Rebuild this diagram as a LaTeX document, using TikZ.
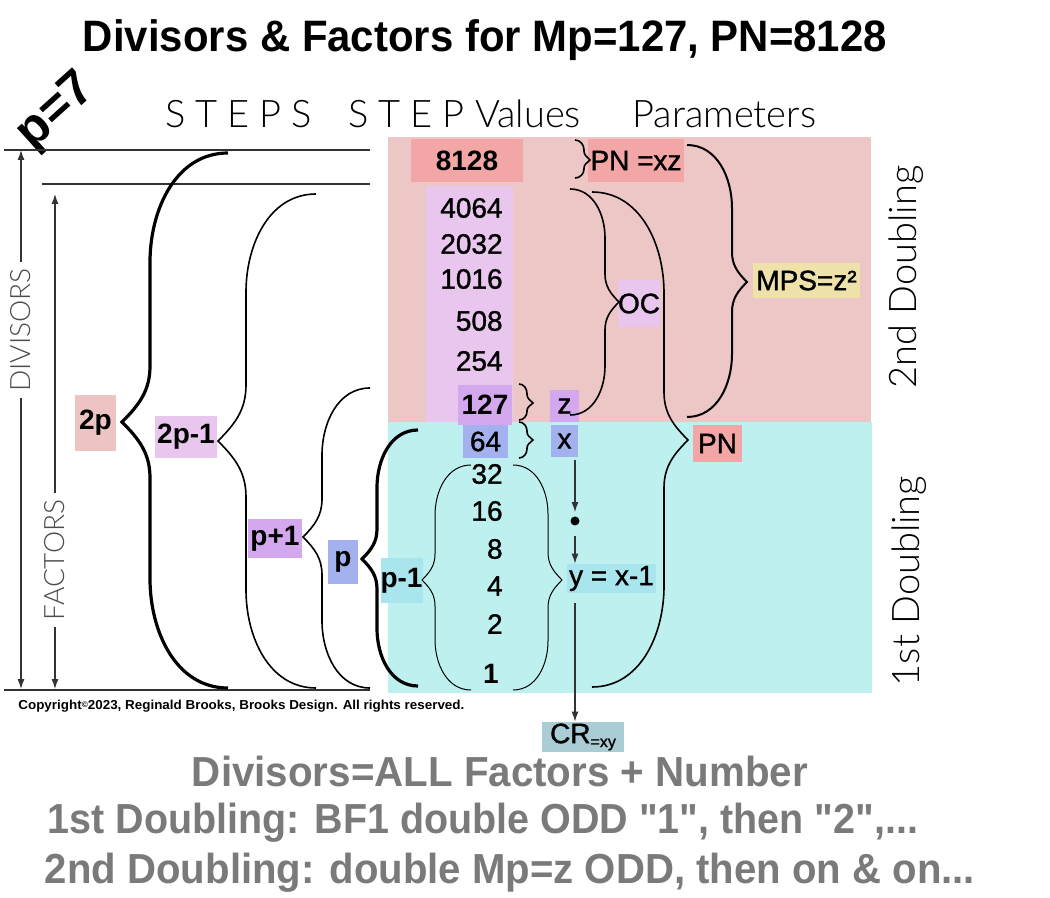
\documentclass[tikz,border=0pt]{standalone}
\usepackage{fontspec}
\setmainfont{Liberation Sans}
\newfontfamily\medfont{Liberation Sans}[FakeBold=1.2]
\newfontfamily\notefont{Liberation Sans}
\newfontfamily\thinfont{Lato Light}
\usetikzlibrary{arrows.meta,positioning}

\definecolor{pinkbg}{HTML}{EDC6C6}
\definecolor{cyanbg}{HTML}{BDF0EE}
\definecolor{lav}{HTML}{E9C6EE}
\definecolor{purp}{HTML}{D3A8EE}
\definecolor{bluebox}{HTML}{A3B1EE}
\definecolor{salmon}{HTML}{F2A6A6}
\definecolor{rosebox}{HTML}{ECC4C4}
\definecolor{sand}{HTML}{EEE2AA}
\definecolor{aqua}{HTML}{A9E5EC}
\definecolor{steel}{HTML}{A9CCD5}
\definecolor{graytxt}{HTML}{7A7A7A}

% curly braces in pixel coordinates: end x, top y, bottom y, spine x, tip x, tip y
\newcommand{\curlyleft}[7][]{%
  \pgfmathsetmacro{\sweepA}{min(1.4*(#2-#5),0.5*(#7-#3))}
  \pgfmathsetmacro{\tipA}{min(2*(#5-#6),0.45*(#7-#3))}
  \pgfmathsetmacro{\sweepB}{min(1.4*(#2-#5),0.5*(#4-#7))}
  \pgfmathsetmacro{\tipB}{min(2*(#5-#6),0.45*(#4-#7))}
  \draw[#1] (#2,-#3) to[out=180,in=90] (#5,-#3-\sweepA) -- (#5,-#7+\tipA)
    to[out=-90,in=45] (#6,-#7) to[out=-45,in=90] (#5,-#7-\tipB)
    -- (#5,-#4+\sweepB) to[out=-90,in=180] (#2,-#4);
}
\newcommand{\curlyright}[7][]{%
  \pgfmathsetmacro{\sweepA}{min(1.4*(#5-#2),0.5*(#7-#3))}
  \pgfmathsetmacro{\tipA}{min(2*(#6-#5),0.45*(#7-#3))}
  \pgfmathsetmacro{\sweepB}{min(1.4*(#5-#2),0.5*(#4-#7))}
  \pgfmathsetmacro{\tipB}{min(2*(#6-#5),0.45*(#4-#7))}
  \draw[#1] (#2,-#3) to[out=0,in=90] (#5,-#3-\sweepA) -- (#5,-#7+\tipA)
    to[out=-90,in=135] (#6,-#7) to[out=-135,in=90] (#5,-#7-\tipB)
    -- (#5,-#4+\sweepB) to[out=-90,in=0] (#2,-#4);
}

\tikzset{
  num/.style={font=\medfont\fontsize{14}{16}\selectfont, inner sep=0pt, anchor=east},
  lbl/.style={fill=#1, inner sep=0pt, font=\medfont\fontsize{14}{16}\selectfont},
  blbl/.style={lbl=#1, font=\bfseries\fontsize{14}{16}\selectfont},
  headtxt/.style={font=\thinfont\fontsize{19}{21}\selectfont, inner sep=0pt, anchor=base west},
  sidetxt/.style={font=\thinfont\fontsize{14}{16}\selectfont, text=black!70, rotate=90, inner sep=3pt},
  doubling/.style={font=\thinfont\fontsize{19}{21}\selectfont, rotate=90, inner sep=0pt},
  bottxt/.style={font=\notefont\bfseries\fontsize{21}{23}\selectfont, text=graytxt, inner sep=0pt, anchor=base},
  rule/.style={line width=0.75pt, black!80},
  arr/.style={line width=0.6pt, black!80, -{Latex[length=5pt,width=3.5pt]}},
  thickbrace/.style={line width=1.6pt},
  midbrace/.style={line width=0.8pt},
  finebrace/.style={line width=0.5pt},
}

\begin{document}
\begin{tikzpicture}[x=0.5pt,y=0.5pt]
\fill[white] (0,0) rectangle (1050,-898);
\useasboundingbox (0,0) rectangle (1050,-898);

% doubling regions
\fill[pinkbg] (388,-137) rectangle (871,-422);
\fill[cyanbg] (388,-422) rectangle (872,-693);
\fill[lav] (426,-186) rectangle (513,-422);

% headings
\node[font=\bfseries\fontsize{22}{24}\selectfont, anchor=base, inner sep=0pt] (title) at (485,-52)
  {\resizebox{402pt}{\height}{Divisors \& Factors for Mp=127, PN=8128}};
\node[headtxt] (hsteps) at (165,-128) {S\kern5pt T\kern5pt E\kern5pt P\kern5pt S};
\node[headtxt] (hvalues) at (348,-128) {S\kern5pt T\kern5pt E\kern5pt P Values};
\node[headtxt] (hparams) at (632,-128) {Parameters};
\node[font=\bfseries\fontsize{25}{25}\selectfont, rotate=42, inner sep=0pt] (pseven) at (57,-112) {p=7};

% rulers
\coordinate (topl) at (4,-150);
\coordinate (topr) at (370,-150);
\coordinate (secl) at (42,-184);
\coordinate (secr) at (370,-184);
\coordinate (botl) at (4,-690);
\coordinate (botr) at (370,-690);
\draw[rule] (topl) -- (topr);
\draw[rule] (secl) -- (secr);
\draw[rule] (botl) -- (botr);
\coordinate (divtop) at (21,-150);
\coordinate (divbot) at (21,-689);
\coordinate (factop) at (55,-194);
\coordinate (facbot) at (55,-689);
\node[sidetxt] (divtxt) at (21,-330) {DIVISORS};
\node[sidetxt] (factxt) at (55,-560) {FACTORS};
\draw[arr] (divtxt.east) -- (divtop);
\draw[arr] (divtxt.west) -- (divbot);
\draw[arr] (factxt.east) -- (factop);
\draw[arr] (factxt.west) -- (facbot);

% step values
\node[lbl=salmon, minimum width=56pt, minimum height=21.5pt, font=\bfseries\fontsize{14}{16}\selectfont] (v8128) at (467,-160.5) {8128};
\foreach \val/\ypos in {4064/208,2032/244,1016/279,508/321,254/361,32/474,16/511,8/549,4/586,2/624}
  \node[num] (v\val) at (503,-\ypos) {\val};
\node[lbl=purp, minimum width=27pt, minimum height=20pt, font=\bfseries\fontsize{14}{16}\selectfont] (v127) at (485,-405) {127};
\node[lbl=bluebox, minimum width=22.5pt, minimum height=16.5pt] (v64) at (485.5,-441.5) {64};
\node[num, font=\bfseries\fontsize{14}{16}\selectfont] (v1) at (499,-674) {1};

% step labels
\node[blbl=rosebox, minimum width=20.5pt, minimum height=28pt] (s2p) at (95.5,-423) {2p};
\node[blbl=lav, minimum width=31pt, minimum height=21pt] (s2pm) at (186,-437) {2p-1};
\node[blbl=purp, minimum width=27pt, minimum height=19.5pt] (spp) at (275,-538.5) {p+1};
\node[blbl=bluebox, minimum width=15pt, minimum height=22pt] (sp) at (343,-562) {p};
\node[blbl=aqua, minimum width=19.5pt, minimum height=22.5pt] (spm) at (401.5,-580.5) {p-1};

% parameters
\node[lbl=salmon, minimum width=48pt, minimum height=21.5pt] (pnxz) at (636,-160.5) {PN =xz};
\node[lbl=sand, minimum width=53.5pt, minimum height=17.5pt] (mps) at (806.5,-280.5) {MPS=z²};
\node[lbl=lav, minimum width=20pt, minimum height=23.5pt] (oc) at (639,-303.5) {OC};
\node[lbl=purp, minimum width=14.5pt, minimum height=16pt] (zbox) at (564.5,-406) {z};
\node[lbl=bluebox, minimum width=13.5pt, minimum height=16pt] (xbox) at (564.5,-441) {x};
\node[lbl=salmon, minimum width=24.5pt, minimum height=18.5pt] (pnbox) at (717.5,-443.5) {PN};
\node[circle, fill=black, inner sep=0pt, minimum size=4.5pt] (dot) at (575,-521) {};
\node[lbl=aqua, minimum width=44.5pt, minimum height=14.5pt] (ybox) at (611.5,-578.5) {y = x-1};
\node[lbl=steel, minimum width=41pt, minimum height=15pt] (crbox) at (583,-737) {CR{\fontsize{8}{8}\selectfont\raisebox{-2pt}{=xy}}};
\draw[arr, shorten <=1.5pt, shorten >=2pt] (dot |- xbox.south) -- (dot.north);
\draw[arr, shorten <=5pt] (dot.south) -- (dot |- ybox.north);
\draw[arr, shorten <=5pt] (dot |- ybox.south) -- (dot |- crbox.north);

% braces for the steps
\curlyleft[thickbrace]{228}{153}{688}{150}{122}{422}
\curlyleft[midbrace]{316}{194}{688}{246}{218}{441}
\curlyleft[midbrace]{370}{388}{688}{322}{303}{537}
\curlyleft[thickbrace]{418}{430}{686}{377}{362}{559}
\curlyleft[finebrace]{471}{465}{690}{435}{422}{580}
\curlyright[finebrace]{513}{465}{690}{548}{562}{580}
% braces for the parameters
\curlyright[midbrace]{575}{140}{178}{584}{590}{160}
\curlyright[midbrace]{519}{384}{420}{527}{533}{403}
\curlyright[midbrace]{519}{422}{458}{527}{533}{440}
\curlyright[midbrace]{570}{189}{415}{605}{619}{302}
\curlyright[midbrace]{592}{192}{687}{664}{688}{440}
\curlyright[line width=1pt]{687}{145}{417}{732}{747}{282}

\node[doubling] (second) at (906,-277) {2nd Doubling};
\node[doubling] (first) at (909,-581) {1st Doubling};

% notes
\node[font=\bfseries\fontsize{6.5}{7}\selectfont, anchor=base west, inner sep=0pt] (copy) at (18,-709)
  {\resizebox{223pt}{\height}{Copyright{\fontsize{4}{4}\selectfont\raisebox{1pt}{©}}2023, Reginald Brooks, Brooks Design. All rights reserved.}};
\node[bottxt] (sum1) at (500,-786) {\resizebox{308pt}{\height}{Divisors=ALL Factors + Number}};
\node[bottxt] (sum2) at (483,-833) {\resizebox{435pt}{\height}{1st Doubling: BF1 double ODD "1", then "2",...}};
\node[bottxt] (sum3) at (510,-883) {\resizebox{465pt}{\height}{2nd Doubling: double Mp=z ODD, then on \& on...}};
\end{tikzpicture}
\end{document}
